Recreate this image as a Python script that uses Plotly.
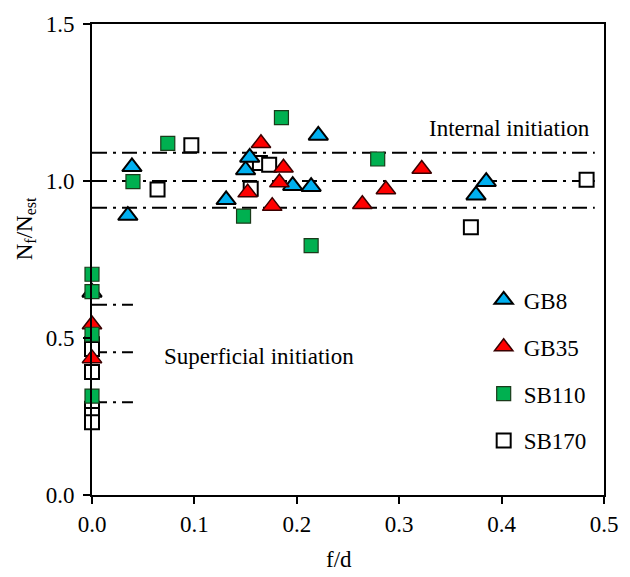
import plotly.graph_objects as go

# ---- data -----------------------------------------------------------------
gb8_x = [0.0, 0.035, 0.039, 0.131, 0.150, 0.154, 0.196, 0.214, 0.221, 0.375, 0.385]
gb8_y = [0.645, 0.89, 1.045, 0.94, 1.035, 1.075, 0.985, 0.982, 1.145, 0.955, 0.998]

gb35_x = [0.0, 0.0, 0.152, 0.165, 0.176, 0.183, 0.187, 0.264, 0.287, 0.322]
gb35_y = [0.543, 0.435, 0.963, 1.12, 0.92, 0.995, 1.042, 0.926, 0.973, 1.038]

sb110_x = [0.0, 0.0, 0.0, 0.0, 0.040, 0.074, 0.148, 0.185, 0.214, 0.279]
sb110_y = [0.703, 0.648, 0.512, 0.315, 0.998, 1.12, 0.888, 1.202, 0.794, 1.07]

sb170_x = [0.0, 0.0, 0.0, 0.0, 0.0, 0.0, 0.064, 0.097, 0.155, 0.164, 0.173, 0.370, 0.483]
sb170_y = [0.48, 0.465, 0.392, 0.275, 0.255, 0.232, 0.973, 1.114, 0.975, 1.057, 1.052, 0.853, 1.004]

# dash-dot guide lines: internal band and superficial levels
internal_levels = [1.09, 1.00, 0.915]
internal_span = [0.0, 0.491]
superficial_levels = [0.606, 0.455, 0.295]
superficial_span = [0.0, 0.040]

x_ticks = [0.0, 0.1, 0.2, 0.3, 0.4, 0.5]
y_ticks = [0.0, 0.5, 1.0, 1.5]

FONT = "Liberation Serif"
FS = 23
DASH = "15px,6px,3px,6px"

fig = go.Figure()

# guide lines
for lv in internal_levels:
    fig.add_trace(go.Scatter(x=internal_span, y=[lv, lv], mode="lines",
                             line=dict(color="black", width=2, dash=DASH),
                             showlegend=False, hoverinfo="skip", cliponaxis=False))
for lv in superficial_levels:
    fig.add_trace(go.Scatter(x=superficial_span, y=[lv, lv], mode="lines",
                             line=dict(color="black", width=2, dash=DASH),
                             showlegend=False, hoverinfo="skip", cliponaxis=False))

# series (SB170 drawn first so it sits underneath)
fig.add_trace(go.Scatter(
    x=sb170_x, y=sb170_y, mode="markers", name="SB170", legendrank=4,
    legendgroup="d", cliponaxis=False,
    marker=dict(symbol="square", size=14, color="white",
                line=dict(color="black", width=2))))
fig.add_trace(go.Scatter(
    x=gb8_x, y=gb8_y, mode="markers", name="GB8", legendrank=1,
    legendgroup="a", cliponaxis=False,
    marker=dict(symbol="triangle-up", size=17, color="#00B0F0",
                line=dict(color="black", width=2))))
fig.add_trace(go.Scatter(
    x=gb35_x, y=gb35_y, mode="markers", name="GB35", legendrank=2,
    legendgroup="b", cliponaxis=False,
    marker=dict(symbol="triangle-up", size=17, color="#FF0000",
                line=dict(color="#3a0000", width=1.5))))
fig.add_trace(go.Scatter(
    x=sb110_x, y=sb110_y, mode="markers", name="SB110", legendrank=3,
    legendgroup="c", cliponaxis=False,
    marker=dict(symbol="square", size=14, color="#00B050",
                line=dict(color="#1a3a1a", width=1.2))))

fig.add_annotation(x=0.408, y=1.167, text="Internal initiation", showarrow=False,
                   font=dict(family=FONT, size=FS, color="black"))
fig.add_annotation(x=0.163, y=0.44, text="Superficial initiation", showarrow=False,
                   font=dict(family=FONT, size=FS, color="black"))

# axis titles
fig.add_annotation(xref="paper", yref="paper", x=-0.13, y=0.565,
                   xanchor="center", yanchor="middle",
                   text="N<sub>f</sub>/N<sub>est</sub>", textangle=-90, showarrow=False,
                   font=dict(family=FONT, size=FS, color="black"))
fig.add_annotation(xref="paper", yref="paper", x=0.482, y=-0.136,
                   xanchor="center", yanchor="middle",
                   text="f/d", showarrow=False,
                   font=dict(family=FONT, size=FS, color="black"))

axis_common = dict(showgrid=False, zeroline=False, showline=True, mirror=True,
                   linecolor="black", linewidth=2, ticks="outside", ticklen=7,
                   tickwidth=1.5, tickcolor="black",
                   tickfont=dict(family=FONT, size=FS, color="black"))

fig.update_xaxes(range=[0, 0.5], tickvals=x_ticks, tickformat=".1f", **axis_common)
fig.update_yaxes(range=[0, 1.5], tickvals=y_ticks, tickformat=".1f",
                 ticklabelstandoff=4, **axis_common)

fig.update_layout(
    width=630, height=577,
    margin=dict(l=92, r=24, t=17, b=82),
    plot_bgcolor="white", paper_bgcolor="white",
    font=dict(family=FONT, size=FS, color="black"),
    legend=dict(x=0.765, y=0.46, xanchor="left", yanchor="top",
                bgcolor="rgba(0,0,0,0)", tracegroupgap=14,
                font=dict(family=FONT, size=FS, color="black")),
)

fig.write_html("out.html")
